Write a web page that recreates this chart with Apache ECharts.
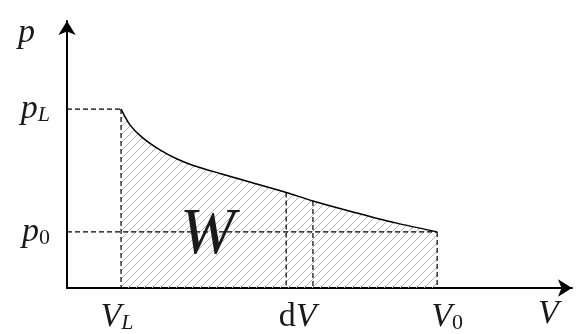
<!DOCTYPE html>
<html>
<head>
<meta charset="utf-8">
<script src="https://cdn.jsdelivr.net/npm/echarts@6/dist/echarts.min.js"></script>
<style>
  html, body { margin: 0; padding: 0; background: #fff; }
  #chart { width: 580px; height: 334px; }
</style>
</head>
<body>
<div id="chart"></div>
<script>
// 示意图数据（任意单位，按图读取）
const V_L = 10.7
const V_0 = 73.3
const dV = [43.4, 48.7]
const p_L = 67.0
const p_0 = 21.0
// 曲线 p(V)
const curveV = [10.7, 12.5, 15.0, 18.4, 21.8, 25.0, 30.3, 36.2, 43.4, 48.7, 56.6, 65.3, 73.3]
const curveP = [67.0, 61.0, 56.2, 51.7, 48.3, 45.9, 42.9, 39.7, 35.8, 32.6, 28.5, 24.3, 21.0]
// 坐标轴标签
const xLabels = [
  { v: V_L, text: '{i|V}{si|L}{gap|}' },
  { v: (dV[0] + dV[1]) / 2, text: '{r|d}{i|V}{gap2|}' },
  { v: V_0, text: '{gap3|}{i|V}{s|0}' }
]
const yLabels = [
  { v: p_L, text: '{i|p}{si|L}' },
  { v: p_0, text: '{i|p}{s|0}' }
]

const FONT = "'Liberation Serif', 'DejaVu Serif', serif"
const INK = '#1a1a1a'

//斜线填充
function hatchPattern() {
  const n = 8
  const c = document.createElement('canvas')
  c.width = n
  c.height = n
  const ctx = c.getContext('2d')
  ctx.strokeStyle = '#b4b4b4'
  ctx.lineWidth = 1
  ctx.beginPath()
  ctx.moveTo(0, n); ctx.lineTo(n, 0)
  ctx.moveTo(-1, 1); ctx.lineTo(1, -1)
  ctx.moveTo(n - 1, n + 1); ctx.lineTo(n + 1, n - 1)
  ctx.stroke()
  return c
}

const rich = {
  i: { fontFamily: FONT, fontStyle: 'italic', fontSize: 34, color: INK },
  r: { fontFamily: FONT, fontSize: 34, color: INK },
  si: { fontFamily: FONT, fontStyle: 'italic', fontSize: 22, color: INK, padding: [12, 0, 0, 0] },
  s: { fontFamily: FONT, fontSize: 22, color: INK, padding: [12, 0, 0, 0] },
  gap: { width: 8 },
  gap2: { width: 4 },
  gap3: { width: 20 }
}

function pick(list, value) {
  let best = list[0]
  list.forEach(e => { if (Math.abs(e.v - value) < Math.abs(best.v - value)) best = e })
  return best.text
}

const dashed = { color: '#000', width: 1.2, type: [5, 3] }
function guide(points) {
  return {
    type: 'line',
    data: points,
    symbol: 'none',
    silent: true,
    lineStyle: dashed,
    z: 3
  }
}

const curve = curveV.map((v, i) => [v, curveP[i]])
const pAt = v => curveP[curveV.indexOf(v)]

const myChart = echarts.init(document.getElementById('chart'))
const option = {
  animation: false,
  grid: { left: 67, right: 8, top: 21, bottom: 46 },
  xAxis: {
    type: 'value',
    min: 0,
    max: 100,
    axisLine: { show: true, symbol: ['none', 'arrow'], symbolSize: [13, 14], lineStyle: { color: '#000', width: 2 } },
    axisTick: { show: false },
    splitLine: { show: false },
    axisLabel: {
      customValues: xLabels.map(e => e.v),
      margin: 12,
      formatter: v => pick(xLabels, v),
      rich: rich
    }
  },
  yAxis: {
    type: 'value',
    min: 0,
    max: 100,
    axisLine: { show: true, symbol: ['none', 'arrow'], symbolSize: [13, 14], lineStyle: { color: '#000', width: 2 } },
    axisTick: { show: false },
    splitLine: { show: false },
    axisLabel: {
      customValues: yLabels.map(e => e.v),
      margin: 17,
      formatter: v => pick(yLabels, v),
      rich: rich
    }
  },
  graphic: [
    { type: 'text', left: 18, top: 16, style: { text: 'p', font: 'italic 34px ' + FONT, fill: INK } },
    { type: 'text', left: 538, top: 297, style: { text: 'V', font: 'italic 34px ' + FONT, fill: INK } },
    { type: 'text', left: 180, top: 203, z: 10, style: { text: 'W', font: 'italic 66px ' + FONT, fill: INK } }
  ],
  series: [
    {
      type: 'line',
      data: curve,
      smooth: 0.25,
      symbol: 'none',
      lineStyle: { color: '#000', width: 1.5 },
      areaStyle: { color: { image: hatchPattern(), repeat: 'repeat' }, opacity: 1 },
      z: 2
    },
    guide([[0, p_L], [V_L, p_L]]),
    guide([[0, p_0], [V_0, p_0]]),
    guide([[V_L, p_L], [V_L, 0]]),
    guide([[dV[0], pAt(dV[0])], [dV[0], 0]]),
    guide([[dV[1], pAt(dV[1])], [dV[1], 0]]),
    guide([[V_0, p_0], [V_0, 0]])
  ]
}
myChart.setOption(option, true)
</script>
</body>
</html>
